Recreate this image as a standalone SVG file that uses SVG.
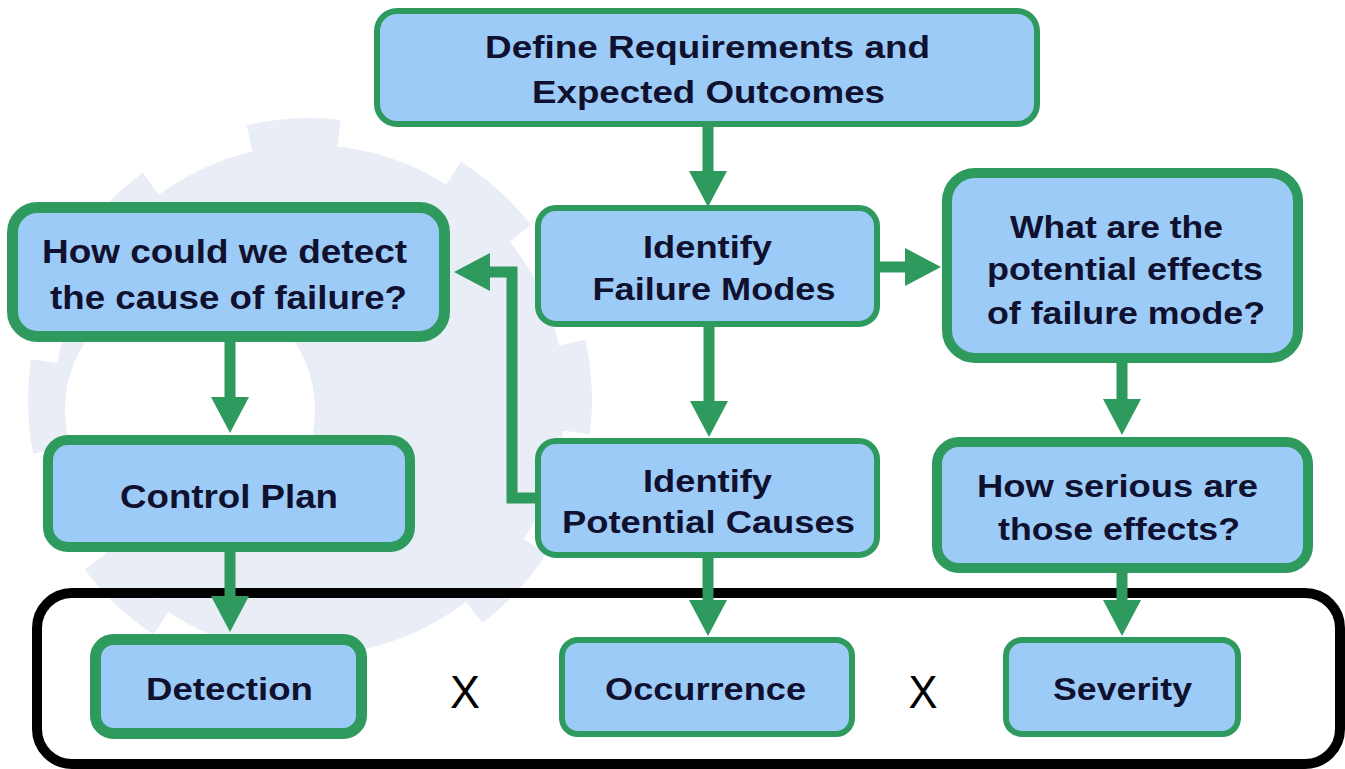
<svg xmlns="http://www.w3.org/2000/svg" width="1345" height="769" viewBox="0 0 1345 769">
  <defs>
    <style>
      .box { fill: #9dcbf8; stroke: #2e9a5e; }
      .thin { stroke-width: 6; }
      .thick { stroke-width: 10; }
      .txt { font-family: "Liberation Sans", Arial, sans-serif; font-weight: bold; fill: #10112e; text-anchor: middle; }
      .x { font-family: "Liberation Sans", Arial, sans-serif; font-weight: normal; fill: #000; text-anchor: middle; font-size: 46px; }
      .arrow { fill: none; stroke: #2e9a5e; stroke-width: 11; marker-end: url(#head); }
      .gear { fill: #e8edf6; }
    </style>
    <marker id="head" markerUnits="userSpaceOnUse" viewBox="0 0 36 38" markerWidth="36" markerHeight="38" refX="1" refY="19" orient="auto">
      <path d="M0,0 L36,19 L0,38 Z" fill="#2e9a5e"/>
    </marker>
  </defs>

  <rect width="1345" height="769" fill="#ffffff"/>

  <g id="background-gear">
    <circle class="gear" cx="310" cy="400" r="255"/>
    <circle cx="310" cy="400" r="268" fill="none" stroke="#e8edf6" stroke-width="28" stroke-dasharray="90 122" transform="rotate(-103 310 400)"/>
    <circle cx="190" cy="410" r="125" fill="#ffffff"/>
  </g>

  <g id="result-frame">
    <rect x="37" y="593" width="1303" height="171" rx="35" fill="none" stroke="#000" stroke-width="10"/>
  </g>

  <g id="connectors">
    <line class="arrow" x1="708" y1="127" x2="708" y2="172"/>
    <line class="arrow" x1="709" y1="327" x2="709" y2="402"/>
    <line class="arrow" x1="708" y1="558" x2="708" y2="601"/>
    <line class="arrow" x1="880" y1="267" x2="906" y2="267"/>
    <line class="arrow" x1="1122" y1="363" x2="1122" y2="400"/>
    <line class="arrow" x1="1122" y1="573" x2="1122" y2="601"/>
    <line class="arrow" x1="230" y1="342" x2="230" y2="398"/>
    <line class="arrow" x1="230" y1="552" x2="230" y2="597"/>
    <polyline class="arrow" points="538,498 512,498 512,272 489,272"/>
  </g>

  <g id="node-define">
    <rect class="box thin" x="377" y="11" width="660" height="113" rx="20"/>
    <text class="txt" font-size="31" x="707.5" y="58" textLength="445" lengthAdjust="spacingAndGlyphs">Define Requirements and</text>
    <text class="txt" font-size="31" x="708.5" y="103" textLength="353" lengthAdjust="spacingAndGlyphs">Expected Outcomes</text>
  </g>

  <g id="node-failure-modes">
    <rect class="box thin" x="538" y="208" width="339" height="116" rx="18"/>
    <text class="txt" font-size="32" x="707.5" y="258" textLength="129" lengthAdjust="spacingAndGlyphs">Identify</text>
    <text class="txt" font-size="32" x="714" y="300" textLength="243" lengthAdjust="spacingAndGlyphs">Failure Modes</text>
  </g>

  <g id="node-potential-causes">
    <rect class="box thin" x="538" y="441" width="339" height="114" rx="18"/>
    <text class="txt" font-size="32" x="707.5" y="492" textLength="129" lengthAdjust="spacingAndGlyphs">Identify</text>
    <text class="txt" font-size="32" x="708.5" y="533" textLength="293" lengthAdjust="spacingAndGlyphs">Potential Causes</text>
  </g>

  <g id="node-effects">
    <rect class="box thick" x="947" y="173" width="351" height="185" rx="28"/>
    <text class="txt" font-size="31" x="1116.5" y="238" textLength="213" lengthAdjust="spacingAndGlyphs">What are the</text>
    <text class="txt" font-size="31" x="1125" y="280" textLength="276" lengthAdjust="spacingAndGlyphs">potential effects</text>
    <text class="txt" font-size="31" x="1126" y="324" textLength="278" lengthAdjust="spacingAndGlyphs">of failure mode?</text>
  </g>

  <g id="node-serious">
    <rect class="box thick" x="937" y="442" width="371" height="126" rx="22"/>
    <text class="txt" font-size="31" x="1117.5" y="497" textLength="281" lengthAdjust="spacingAndGlyphs">How serious are</text>
    <text class="txt" font-size="31" x="1119" y="540" textLength="242" lengthAdjust="spacingAndGlyphs">those effects?</text>
  </g>

  <g id="node-detect">
    <rect class="box" stroke-width="11" x="12.5" y="207.5" width="432" height="129" rx="25"/>
    <text class="txt" font-size="33" x="224.5" y="263" textLength="365" lengthAdjust="spacingAndGlyphs">How could we detect</text>
    <text class="txt" font-size="33" x="228.5" y="309" textLength="357" lengthAdjust="spacingAndGlyphs">the cause of failure?</text>
  </g>

  <g id="node-control-plan">
    <rect class="box thick" x="48" y="440" width="362" height="107" rx="20"/>
    <text class="txt" font-size="33" x="229" y="508" textLength="218" lengthAdjust="spacingAndGlyphs">Control Plan</text>
  </g>

  <g id="node-detection">
    <rect class="box" stroke-width="11" x="95.5" y="639.5" width="266" height="94" rx="18"/>
    <text class="txt" font-size="32" x="229.5" y="700" textLength="167" lengthAdjust="spacingAndGlyphs">Detection</text>
  </g>

  <g id="node-occurrence">
    <rect class="box thin" x="562" y="640" width="290" height="94" rx="16"/>
    <text class="txt" font-size="32" x="705.5" y="700" textLength="201" lengthAdjust="spacingAndGlyphs">Occurrence</text>
  </g>

  <g id="node-severity">
    <rect class="box thin" x="1006" y="640" width="232" height="94" rx="16"/>
    <text class="txt" font-size="32" x="1122.5" y="700" textLength="139" lengthAdjust="spacingAndGlyphs">Severity</text>
  </g>

  <g id="operators">
    <text class="x" x="465" y="708" textLength="30" lengthAdjust="spacingAndGlyphs">X</text>
    <text class="x" x="923" y="708" textLength="29" lengthAdjust="spacingAndGlyphs">X</text>
  </g>
</svg>
